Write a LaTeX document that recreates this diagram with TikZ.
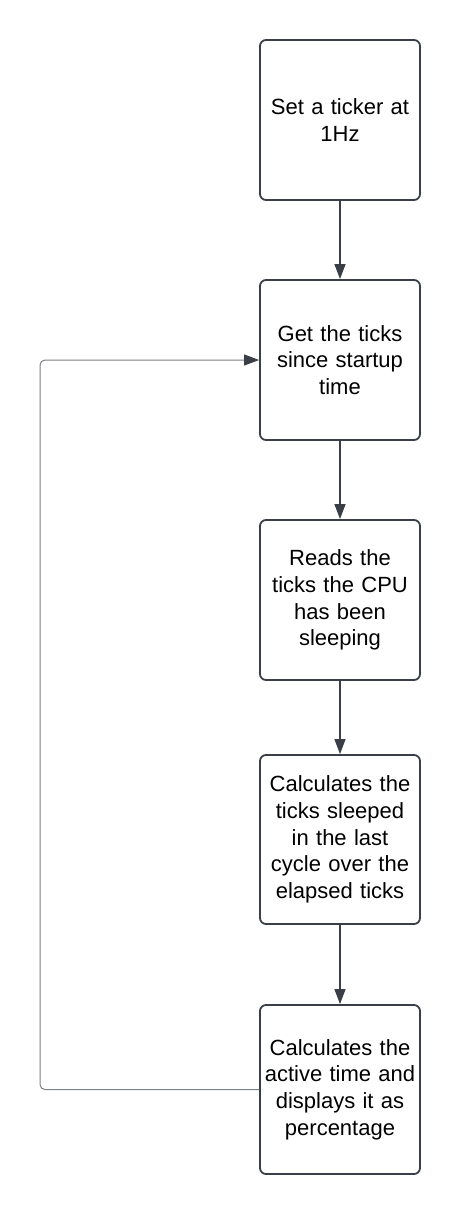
\documentclass[tikz,border=0pt]{standalone}
\usepackage{fontspec}
\setmainfont{Liberation Sans}
\usetikzlibrary{arrows.meta}
\definecolor{boxline}{HTML}{3A3F47}
\definecolor{loopline}{HTML}{7C8088}
\tikzset{
  stepbox/.style={draw=boxline, line width=1.8pt, rounded corners=6pt, minimum width=160pt, minimum height=160pt, text width=156pt, align=center, inner sep=0pt, font=\fontsize{22}{26.7}\selectfont},
  flow/.style={draw=boxline, line width=1.2pt, -{Triangle[length=15pt,width=11pt]}},
  loopflow/.style={draw=loopline, line width=1pt, rounded corners=5pt, -{Triangle[length=15pt,width=11pt,color=boxline,fill=boxline]}}
}
\begin{document}
\begin{tikzpicture}[x=1pt,y=-1pt]
\useasboundingbox (0,0) rectangle (460,1215);
\node[stepbox] (b1) at (340,120) {Set a ticker at\\1Hz};
\node[stepbox] (b2) at (340,360) {Get the ticks\\since startup\\time};
\node[stepbox] (b3) at (340,600) {Reads the\\ticks the CPU\\has been\\sleeping};
\node[stepbox, minimum height=169pt] (b4) at (340,839.5) {Calculates the\\ticks sleeped\\in the last\\cycle over the\\elapsed ticks};
\node[stepbox, minimum height=169pt] (b5) at (340,1089.5) {Calculates the\\active time and\\displays it as\\percentage};
\coordinate (lb) at (40,1089.5);
\coordinate (lt) at (40,360);
\draw[flow] (b1.south) -- (b2.north);
\draw[flow] (b2.south) -- (b3.north);
\draw[flow] (b3.south) -- (b4.north);
\draw[flow] (b4.south) -- (b5.north);
\draw[loopflow] (b5.west) -- (lb) -- (lt) -- (b2.west);
\end{tikzpicture}
\end{document}
